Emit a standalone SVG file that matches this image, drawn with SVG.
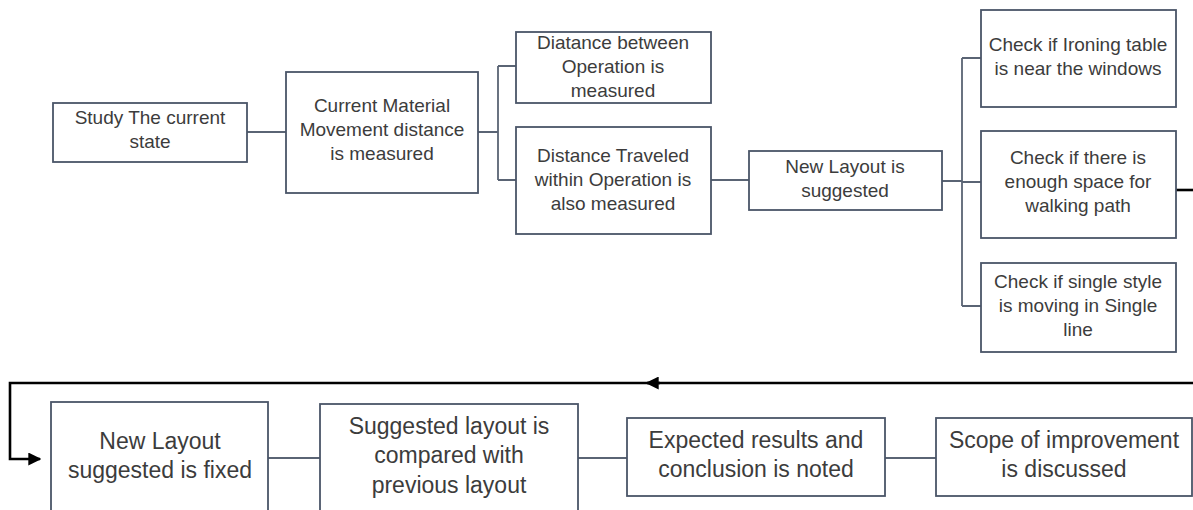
<svg xmlns="http://www.w3.org/2000/svg" width="1193" height="510" viewBox="0 0 1193 510">
<style>
.box{fill:#ffffff;stroke:#4a5568;stroke-width:1.8}
.t{font-family:"Liberation Sans",Arial,sans-serif;font-size:19px;fill:#3c3c3c;text-anchor:middle}
.tb{font-family:"Liberation Sans",Arial,sans-serif;font-size:23px;fill:#3c3c3c;text-anchor:middle}
.c{fill:none;stroke:#5a6474;stroke-width:1.8}
.k{fill:none;stroke:#000000;stroke-width:2.6}
</style>
<defs>
<marker id="ah" viewBox="0 0 10 10" refX="9" refY="5" markerWidth="5" markerHeight="5" orient="auto" markerUnits="strokeWidth">
<path d="M0,0 L10,5 L0,10 z" fill="#000"/>
</marker>
</defs>
<rect width="1193" height="510" fill="#ffffff"/>
<g id="connectors">
<path class="c" d="M247,132 H286"/>
<path class="c" d="M478,132 H498 M498,66 V180 M498,66 H516 M498,180 H516"/>
<path class="c" d="M711,180 H749"/>
<path class="c" d="M942,181 H962 M962,58 V306 M962,58 H981 M962,182 H981 M962,306 H981"/>
<path class="k" d="M1176,190 H1193"/>
<path class="k" d="M1193,383 H655"/>
<path class="k" d="M660,383 H647" marker-end="url(#ah)"/>
<path class="k" d="M655,383 H10 V459 H40" marker-end="url(#ah)"/>
<path class="c" d="M268,458 H320 M578,458 H627 M885,458 H936"/>
</g>
<g id="n1"><rect class="box" x="53" y="103" width="194" height="59"/>
<text class="t" x="150" y="124">Study The current</text><text class="t" x="150" y="148">state</text></g>
<g id="n2"><rect class="box" x="286" y="72" width="192" height="121"/>
<text class="t" x="382" y="112">Current Material</text><text class="t" x="382" y="136">Movement distance</text><text class="t" x="382" y="160">is measured</text></g>
<g id="n3"><rect class="box" x="516" y="32" width="195" height="71"/>
<text class="t" x="613" y="49">Diatance between</text><text class="t" x="613" y="73">Operation is</text><text class="t" x="613" y="97">measured</text></g>
<g id="n4"><rect class="box" x="516" y="127" width="195" height="107"/>
<text class="t" x="613" y="162">Distance Traveled</text><text class="t" x="613" y="186">within Operation is</text><text class="t" x="613" y="210">also measured</text></g>
<g id="n5"><rect class="box" x="749" y="151" width="193" height="59"/>
<text class="t" x="845" y="173">New Layout is</text><text class="t" x="845" y="197">suggested</text></g>
<g id="n6"><rect class="box" x="981" y="10" width="195" height="97"/>
<text class="t" x="1078" y="51">Check if Ironing table</text><text class="t" x="1078" y="75">is near the windows</text></g>
<g id="n7"><rect class="box" x="981" y="131" width="195" height="107"/>
<text class="t" x="1078" y="164">Check if there is</text><text class="t" x="1078" y="188">enough space for</text><text class="t" x="1078" y="212">walking path</text></g>
<g id="n8"><rect class="box" x="981" y="263" width="195" height="89"/>
<text class="t" x="1078" y="288">Check if single style</text><text class="t" x="1078" y="312">is moving in Single</text><text class="t" x="1078" y="336">line</text></g>
<g id="n9"><rect class="box" x="51" y="402" width="217" height="112"/>
<text class="tb" x="160" y="449">New Layout</text><text class="tb" x="160" y="478">suggested is fixed</text></g>
<g id="n10"><rect class="box" x="320" y="404" width="258" height="110"/>
<text class="tb" x="449" y="434">Suggested layout is</text><text class="tb" x="449" y="463">compared with</text><text class="tb" x="449" y="493">previous layout</text></g>
<g id="n11"><rect class="box" x="627" y="418" width="258" height="78"/>
<text class="tb" x="756" y="448">Expected results and</text><text class="tb" x="756" y="477">conclusion is noted</text></g>
<g id="n12"><rect class="box" x="936" y="418" width="256" height="78"/>
<text class="tb" x="1064" y="448">Scope of improvement</text><text class="tb" x="1064" y="477">is discussed</text></g>
</svg>
